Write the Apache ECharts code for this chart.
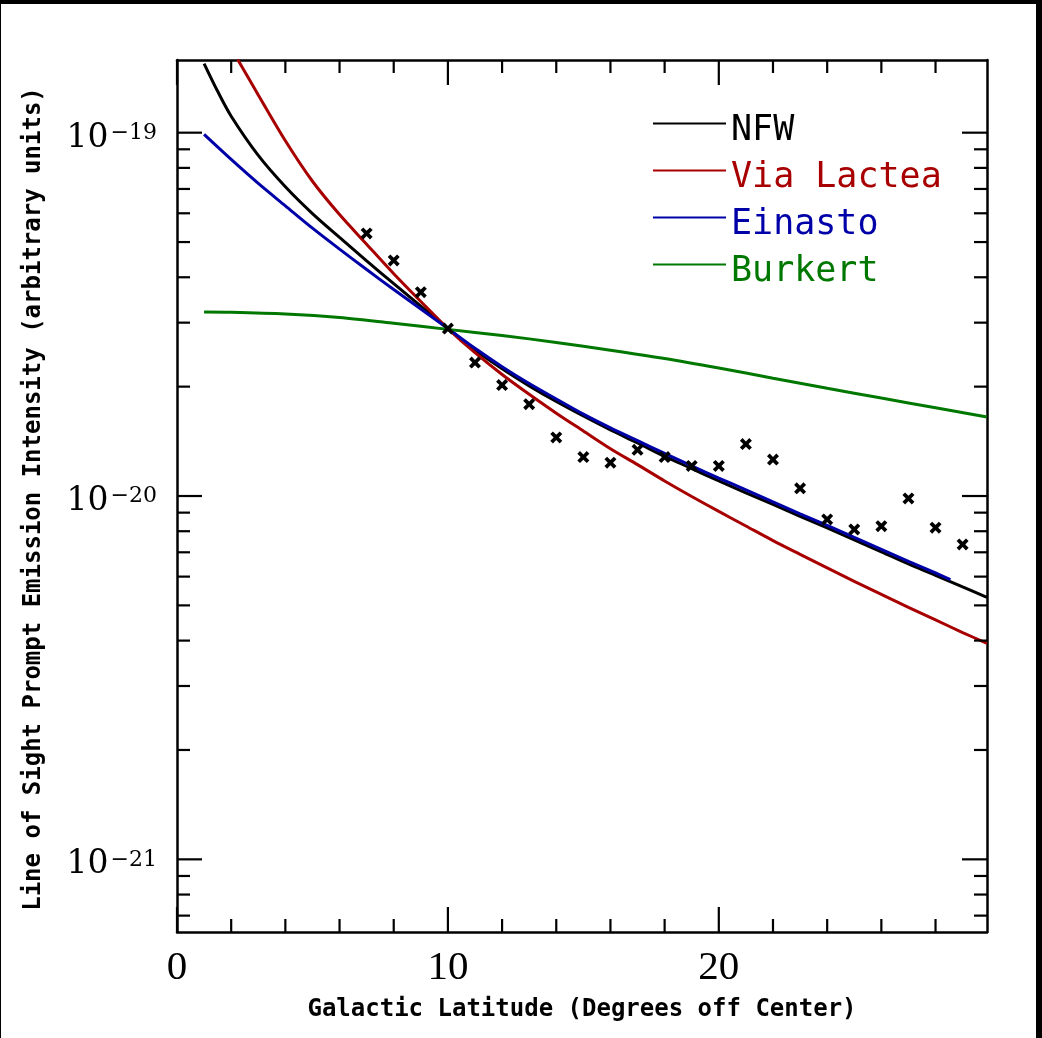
<!DOCTYPE html>
<html>
<head>
<meta charset="utf-8">
<title>Line of Sight Prompt Emission</title>
<script src="https://cdn.jsdelivr.net/npm/echarts@6.0.0/dist/echarts.min.js"></script>
<style>
html,body{margin:0;padding:0;background:#fff;}
#main{width:1042px;height:1038px;}
</style>
</head>
<body>
<div id="main"></div>
<script>
// galactic latitude (deg) and intensity

var nfwLat = [1, 1.5, 2, 3, 4, 5, 6, 7, 8, 9, 10, 11, 12, 13, 14, 15, 16, 17, 18, 19, 20, 21, 22, 23, 24, 25, 26, 27, 28, 29, 29.9];
var nfwFlux = [1.55e-19, 1.30e-19, 1.11e-19, 8.66e-20, 7.10e-20, 5.99e-20, 5.15e-20, 4.44e-20, 3.84e-20, 3.33e-20,
  2.89e-20, 2.52e-20, 2.24e-20, 2.01e-20, 1.82e-20, 1.66e-20, 1.52e-20, 1.40e-20, 1.285e-20, 1.19e-20,
  1.10e-20, 1.02e-20, 9.48e-21, 8.79e-21, 8.17e-21, 7.57e-21, 7.02e-21, 6.50e-21, 6.05e-21, 5.62e-21, 5.26e-21];

var vlLat = [2.24, 3, 4, 5, 6, 7, 8, 9, 10, 11, 12, 13, 14, 15, 16, 17, 18, 19, 20, 21, 22, 23, 24, 25, 26, 27, 28, 29, 29.9];
var vlFlux = [1.59e-19, 1.27e-19, 9.50e-20, 7.35e-20, 5.95e-20, 4.93e-20, 4.09e-20, 3.43e-20,
  2.89e-20, 2.48e-20, 2.16e-20, 1.905e-20, 1.69e-20, 1.51e-20, 1.35e-20, 1.22e-20, 1.10e-20, 9.97e-21,
  9.07e-21, 8.27e-21, 7.54e-21, 6.91e-21, 6.34e-21, 5.82e-21, 5.36e-21, 4.94e-21, 4.56e-21, 4.21e-21, 3.93e-21];

var einLat = [1, 2, 3, 4, 5, 6, 7, 8, 9, 10, 11, 12, 13, 14, 15, 16, 17, 18, 19, 20, 21, 22, 23, 24, 25, 26, 27, 28, 28.55];
var einFlux = [9.89e-20, 8.44e-20, 7.25e-20, 6.29e-20, 5.46e-20, 4.78e-20, 4.20e-20, 3.70e-20, 3.27e-20,
  2.89e-20, 2.55e-20, 2.27e-20, 2.04e-20, 1.85e-20, 1.68e-20, 1.54e-20, 1.42e-20, 1.31e-20, 1.21e-20,
  1.12e-20, 1.04e-20, 9.63e-21, 8.93e-21, 8.30e-21, 7.69e-21, 7.13e-21, 6.61e-21, 6.14e-21, 5.89e-21];

var burLat = [1, 2, 4, 6, 8, 10, 12, 14, 16, 18, 20, 22, 24, 26, 28, 29.9];
var burFlux = [3.21e-20, 3.205e-20, 3.17e-20, 3.10e-20, 2.99e-20, 2.875e-20, 2.765e-20, 2.647e-20,
  2.52e-20, 2.39e-20, 2.25e-20, 2.11e-20, 1.98e-20, 1.86e-20, 1.75e-20, 1.65e-20];

// measured points (x marks)
var obsLat = [7, 8, 9, 10, 11, 12, 13, 14, 15, 16, 17, 18, 19, 20, 21, 22, 23, 24, 25, 26, 27, 28, 29];
var obsFlux = [5.28e-20, 4.45e-20, 3.64e-20, 2.89e-20, 2.33e-20, 2.02e-20, 1.79e-20, 1.45e-20, 1.28e-20, 1.235e-20,
  1.34e-20, 1.28e-20, 1.21e-20, 1.21e-20, 1.39e-20, 1.26e-20, 1.05e-20, 8.62e-21, 8.09e-21, 8.26e-21,
  9.85e-21, 8.18e-21, 7.36e-21];

// axis ticks
var xMin = 0, xMax = 29.9, xStep = 10;
var xMajorTicks = [0, 10, 20];
var xMinorTicks = [2, 4, 6, 8, 12, 14, 16, 18, 22, 24, 26, 28];
var yMin = 6.31e-22, yMax = 1.585e-19;
var yMajorTicks = [1e-21, 1e-20, 1e-19];
var yMinorTicks = [7e-22, 8e-22, 9e-22, 2e-21, 3e-21, 4e-21, 5e-21, 6e-21, 7e-21, 8e-21, 9e-21,
  2e-20, 3e-20, 4e-20, 5e-20, 6e-20, 7e-20, 8e-20, 9e-20];

var seriesNames = ['NFW', 'Via Lactea', 'Einasto', 'Burkert'];
var seriesColors = ['#000000', '#a80000', '#0000a8', '#007800'];

var xTitle = 'Galactic Latitude (Degrees off Center)';
var yTitle = 'Line of Sight Prompt Emission Intensity (arbitrary units)';

var chart = echarts.init(document.getElementById('main'));

function pairs(xs, ys) {
  var out = [];
  for (var i = 0; i < xs.length; i++) out.push([xs[i], ys[i]]);
  return out;
}

function curve(i, xs, ys) {
  return {
    name: seriesNames[i], type: 'line', data: pairs(xs, ys),
    symbol: 'none', smooth: 0.3, clip: true, z: 3,
    lineStyle: {color: seriesColors[i], width: 3},
    itemStyle: {color: seriesColors[i]}
  };
}

var tickStyle = {stroke: '#000', lineWidth: 2.2};
var majorLen = 25, minorLen = 13;

// ticks drawn inward on both opposite sides of the frame
function yTicks(list, len) {
  return {
    type: 'custom', silent: true, clip: false, z: 6,
    data: list.map(function (v) { return [xMin, v]; }),
    renderItem: function (params, api) {
      var p = api.coord([api.value(0), api.value(1)]);
      var cs = params.coordSys;
      return {type: 'group', children: [
        {type: 'line', shape: {x1: cs.x, y1: p[1], x2: cs.x + len, y2: p[1]}, style: tickStyle},
        {type: 'line', shape: {x1: cs.x + cs.width - len, y1: p[1], x2: cs.x + cs.width, y2: p[1]}, style: tickStyle}
      ]};
    }
  };
}
function xTicks(list, len) {
  return {
    type: 'custom', silent: true, clip: false, z: 6,
    data: list.map(function (v) { return [v, yMin]; }),
    renderItem: function (params, api) {
      var p = api.coord([api.value(0), api.value(1)]);
      var cs = params.coordSys;
      return {type: 'group', children: [
        {type: 'line', shape: {x1: p[0], y1: cs.y + cs.height, x2: p[0], y2: cs.y + cs.height - len}, style: tickStyle},
        {type: 'line', shape: {x1: p[0], y1: cs.y, x2: p[0], y2: cs.y + len}, style: tickStyle}
      ]};
    }
  };
}

var axisLineStyle = {show: true, onZero: false, lineStyle: {color: '#000', width: 2.5}};

function yLabel(v) {
  var e = Math.log10(v);
  var r = Math.round(e);
  if (Math.abs(e - r) > 1e-6) return '';
  return '{b|10}{s|\u2212' + (-r) + '}';
}

var option = {
  backgroundColor: '#fff',
  animation: false,
  grid: {left: 177, top: 60, width: 810, height: 872, containLabel: false, outerBoundsMode: 'none'},
  legend: {
    orient: 'vertical', left: 653, top: 99, padding: 0,
    icon: 'rect', itemWidth: 73, itemHeight: 2, itemGap: -2,
    formatter: '{t|{name}}',
    textStyle: {
      fontFamily: 'DejaVu Sans Mono', fontSize: 35, lineHeight: 36,
      rich: {t: {fontFamily: 'DejaVu Sans Mono', fontSize: 35, lineHeight: 36, padding: [14, 0, 0, 0]}}
    },
    data: seriesNames.map(function (n, i) {
      return {name: n, textStyle: {color: seriesColors[i]}};
    })
  },
  xAxis: [{
    type: 'value', position: 'bottom', min: xMin, max: xMax, interval: xStep,
    axisLine: axisLineStyle, axisTick: {show: false}, splitLine: {show: false},
    axisLabel: {
      margin: 16, color: '#000', fontFamily: 'Liberation Serif', fontSize: 41, lineHeight: 41,
      formatter: function (v) { return v % xStep === 0 ? String(v) : ''; }
    },
    name: xTitle, nameLocation: 'middle', nameGap: 66,
    nameTextStyle: {fontFamily: 'DejaVu Sans Mono', fontWeight: 'bold', fontSize: 24, color: '#000'}
  }, {
    type: 'value', position: 'top', min: xMin, max: xMax, interval: xStep,
    axisLine: axisLineStyle, axisTick: {show: false}, splitLine: {show: false},
    axisLabel: {show: false}
  }],
  yAxis: [{
    type: 'log', logBase: 10, position: 'left', min: yMin, max: yMax,
    axisLine: axisLineStyle, axisTick: {show: false}, splitLine: {show: false},
    axisLabel: {
      margin: 20, color: '#000', formatter: yLabel, padding: [11, 0, 0, 0],
      rich: {
        b: {fontFamily: 'DejaVu Serif', fontSize: 33, lineHeight: 34, color: '#000'},
        s: {fontFamily: 'DejaVu Serif', fontSize: 22, lineHeight: 22, verticalAlign: 'top', color: '#000', padding: [1, 0, 0, 2]}
      }
    }
  }, {
    type: 'log', logBase: 10, position: 'right', min: yMin, max: yMax,
    axisLine: axisLineStyle, axisTick: {show: false}, splitLine: {show: false},
    axisLabel: {show: false}
  }],
  graphic: [
    {type: 'rect', left: 0, top: 0, shape: {width: 1042, height: 4}, style: {fill: '#000'}},
    {type: 'rect', left: 0, top: 0, shape: {width: 1, height: 1038}, style: {fill: '#000'}},
    {type: 'rect', left: 1036, top: 0, shape: {width: 6, height: 1038}, style: {fill: '#000'}},
    {
      type: 'text', x: 34, y: 499, rotation: Math.PI / 2,
      style: {text: yTitle, fill: '#000', align: 'center', verticalAlign: 'middle',
        font: 'bold 24px "DejaVu Sans Mono"'}
    }
  ],
  series: [
    curve(0, nfwLat, nfwFlux),
    curve(1, vlLat, vlFlux),
    curve(2, einLat, einFlux),
    curve(3, burLat, burFlux),
    {
      name: 'data', type: 'scatter', data: pairs(obsLat, obsFlux), z: 5,
      symbol: 'path://M0,2.2L2.2,0L5,2.8L7.8,0L10,2.2L7.2,5L10,7.8L7.8,10L5,7.2L2.2,10L0,7.8L2.8,5Z',
      symbolSize: 12, itemStyle: {color: '#000', opacity: 1}
    },
    yTicks(yMajorTicks, majorLen),
    yTicks(yMinorTicks, minorLen),
    xTicks(xMajorTicks, majorLen),
    xTicks(xMinorTicks, minorLen)
  ]
};

chart.setOption(option);
</script>
</body>
</html>
